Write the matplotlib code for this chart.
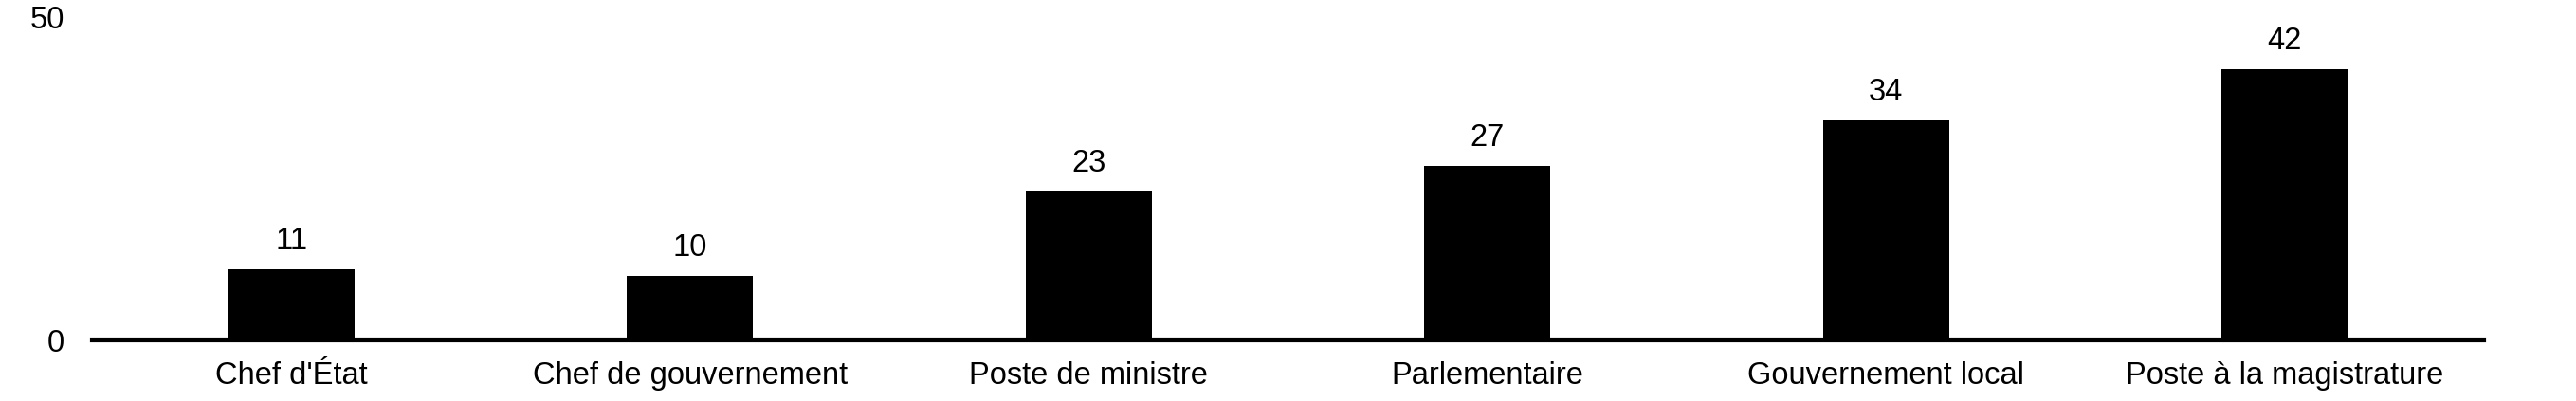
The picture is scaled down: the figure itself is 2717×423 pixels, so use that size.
import matplotlib
matplotlib.use("Agg")
import matplotlib.pyplot as plt

categories = ["Chef d'État", "Chef de gouvernement", "Poste de ministre",
              "Parlementaire", "Gouvernement local", "Poste à la magistrature"]
values = [11, 10, 23, 27, 34, 42]
yticks = [0, 50]

plt.rcParams['font.family'] = ['Liberation Sans', 'DejaVu Sans']
FS = 23.5

fig = plt.figure(figsize=(27.17, 4.23), dpi=100)
ax = fig.add_axes([97/2717, 1-359/423, (2620-97)/2717, (359-18)/423])

x = list(range(len(categories)))
bars = ax.bar(x, values, width=0.316, color='black', edgecolor='none', zorder=2)

for xi, v in zip(x, values):
    ax.annotate(f"{v}", xy=(xi, v), xytext=(0, 10), textcoords='offset points',
                ha='center', va='bottom', fontsize=FS, color='black')

ax.set_xlim(-0.5, len(categories) - 0.5)
ax.set_ylim(0, 50)
ax.set_xticks(x)
ax.set_xticklabels(categories, fontsize=FS)
ax.set_yticks(yticks)
ax.set_yticklabels([str(t) for t in yticks], fontsize=FS)
ax.tick_params(axis='x', length=0, pad=16)
ax.tick_params(axis='y', length=0, pad=21)

for s in ['top', 'right', 'left']:
    ax.spines[s].set_visible(False)
ax.spines['bottom'].set_linewidth(3)
ax.spines['bottom'].set_color('black')
ax.spines['bottom'].set_zorder(3)

fig.savefig("out.png", dpi=100, facecolor='white')
